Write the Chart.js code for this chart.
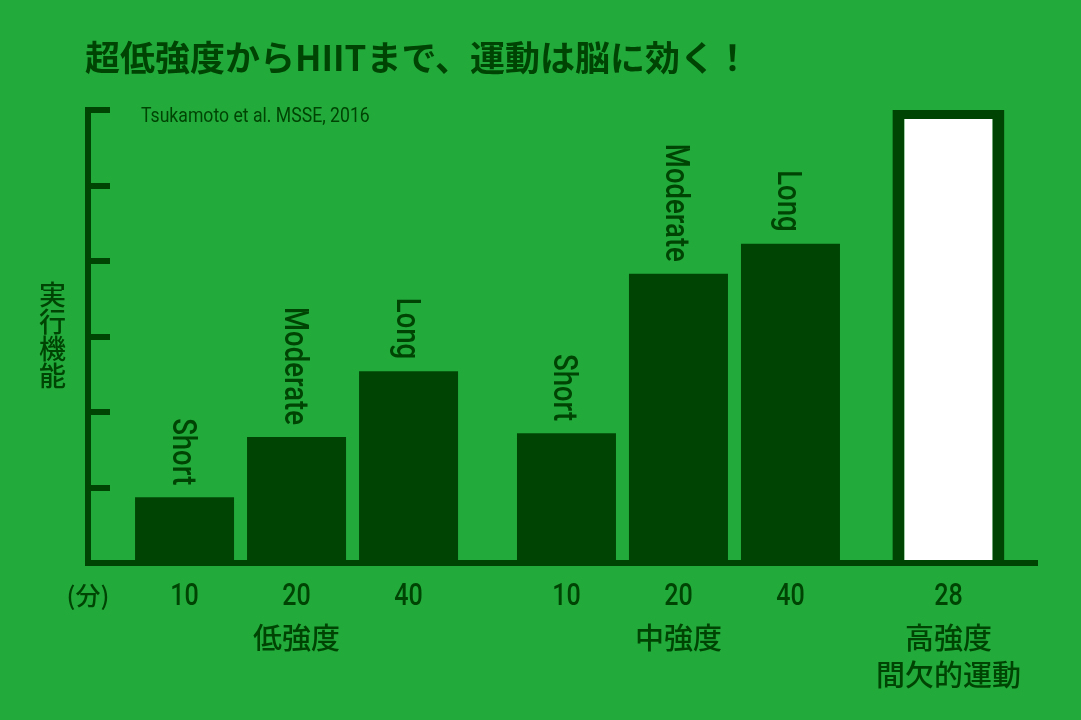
<!DOCTYPE html>
<html lang="ja">
<head>
<meta charset="utf-8">
<title>超低強度からHIITまで、運動は脳に効く！</title>
<script src="https://cdn.jsdelivr.net/npm/chart.js@4.4.1/dist/chart.umd.min.js"></script>
<style>
  html, body { margin: 0; padding: 0; background: #22ab3b; }
  #wrap { position: relative; width: 1081px; height: 720px; overflow: hidden; background: #22ab3b; }
  #chartBox { position: absolute; left: 0; top: 0; width: 1081px; height: 720px; }
  .title {
    position: absolute; left: 85px; top: 38px;
    font: bold 35px/35px "Noto Sans CJK JP", sans-serif;
    color: #004404; white-space: nowrap;
  }
  .source {
    position: absolute; left: 141px; top: 105px;
    font: 21px/21px Roboto, "Liberation Sans", sans-serif;
    color: #004404; white-space: nowrap;
    transform: scaleX(0.84); transform-origin: 0 0;
  }
  .ylabel {
    position: absolute; left: 39px; top: 281px;
    font: 500 27px/27px "Noto Sans CJK JP", sans-serif;
    writing-mode: vertical-rl; text-orientation: upright;
    color: #004404;
  }
</style>
</head>
<body>
<div id="wrap">
  <div id="chartBox"><canvas id="myChart"></canvas></div>
  <div class="title">超低強度からHIITまで、運動は脳に効く！</div>
  <div class="source">Tsukamoto et al. MSSE, 2016</div>
  <div class="ylabel">実行機能</div>
</div>
<script>
var DARK = '#004404';
var SANS = 'Roboto, "Liberation Sans", sans-serif';
var CJK = '"Noto Sans CJK JP", sans-serif';
var NARROW = 0.81; // 欧文は横を詰めてコンデンス書体風に

// 運動強度グループ（最後は高強度間欠的運動）
var groupNames = [['低強度'], ['中強度'], ['高強度', '間欠的運動']];
var HIIT_GROUP = 2;

// 各バー：所属グループ、運動時間（分）、時間の呼び名、実行機能（目盛なしの相対値）
var barGroups = [0, 0, 0, 1, 1, 1, 2];
var minuteLabels = ['10', '20', '40', '10', '20', '40', '28'];
var durationNames = ['Short', 'Moderate', 'Long', 'Short', 'Moderate', 'Long', ''];
var scores = [8.7, 16.7, 25.4, 17.2, 38.3, 42.3, 60.4];
var unitLabel = '(分)';

// レイアウト用（グループ間のすき間と横軸の範囲）
var GROUP_GAP = 0.41;
var X_MIN = -0.862;
var X_MAX = 7.611;

var slots = barGroups.map(function (g, i) { return i + g * GROUP_GAP; });

var plainBars = [], plainNames = [], hiitBars = [];
for (var i = 0; i < scores.length; i++) {
    var point = { x: slots[i], y: scores[i] };
    if (barGroups[i] === HIIT_GROUP) {
        hiitBars.push(point);
    } else {
        plainBars.push(point);
        plainNames.push(durationNames[i]);
    }
}

var groupCenters = groupNames.map(function (name, g) {
    var xs = slots.filter(function (s, i) { return barGroups[i] === g; });
    return xs.reduce(function (a, b) { return a + b; }, 0) / xs.length;
});

// バーの上に縦書きで Short / Moderate / Long、横軸の分数
var narrowText = {
    id: 'narrowText',
    afterDraw: function (chart) {
        var ctx = chart.ctx;
        ctx.save();
        ctx.fillStyle = DARK;

        ctx.font = '500 34px ' + SANS;
        ctx.textAlign = 'right';
        ctx.textBaseline = 'alphabetic';
        chart.getDatasetMeta(0).data.forEach(function (bar, i) {
            ctx.save();
            ctx.translate(bar.x, bar.y - 12);
            ctx.rotate(Math.PI / 2);
            ctx.scale(NARROW, 1);
            ctx.fillText(plainNames[i], 0, 12);
            ctx.restore();
        });

        var xs = chart.scales.x;
        ctx.textAlign = 'center';
        xs.ticks.forEach(function (tick, i) {
            var px = xs.getPixelForTick(i);
            ctx.save();
            if (i === 0) {
                ctx.font = '500 25px ' + CJK;
                ctx.textBaseline = 'middle';
                ctx.fillText(tick.label, px, xs.top + 32);
            } else {
                ctx.font = '500 31px ' + SANS;
                ctx.textBaseline = 'alphabetic';
                ctx.translate(px, xs.top + 42);
                ctx.scale(NARROW, 1);
                ctx.fillText(tick.label, 0, 0);
            }
            ctx.restore();
        });
        ctx.restore();
    }
};

var ctx = document.getElementById('myChart').getContext('2d');
var chart = new Chart(ctx, {
    type: 'bar',
    data: {
        datasets: [{
            label: '実行機能',
            data: plainBars,
            backgroundColor: DARK,
            borderWidth: 0,
            maxBarThickness: 99,
            barPercentage: 1.3,
            categoryPercentage: 1
        }, {
            label: '高強度間欠的運動',
            data: hiitBars,
            backgroundColor: '#ffffff',
            borderColor: DARK,
            borderWidth: 12,
            borderSkipped: 'start',
            maxBarThickness: 112,
            barPercentage: 1.3,
            categoryPercentage: 1
        }]
    },
    options: {
        responsive: true,
        maintainAspectRatio: false,
        animation: false,
        layout: { padding: { left: 0, right: 44, top: 110, bottom: 0 } },
        datasets: { bar: { grouped: false } },
        plugins: {
            legend: { display: false },
            tooltip: { enabled: false }
        },
        scales: {
            x: {
                type: 'linear',
                position: 'bottom',
                offset: false,
                weight: 0,
                min: X_MIN,
                max: X_MAX,
                grid: { display: false, drawTicks: false },
                border: { display: true, color: DARK, width: 6, z: 1 },
                afterBuildTicks: function (scale) {
                    scale.ticks = [{ value: X_MIN }].concat(slots.map(function (s) { return { value: s }; }));
                },
                afterFit: function (scale) { scale.height = 50; },
                ticks: {
                    display: false,
                    autoSkip: false,
                    callback: function (value, index) {
                        return index === 0 ? unitLabel : minuteLabels[index - 1];
                    }
                }
            },
            xg: {
                type: 'linear',
                position: 'bottom',
                axis: 'x',
                offset: false,
                weight: 1,
                min: X_MIN,
                max: X_MAX,
                grid: { display: false, drawTicks: false },
                border: { display: false },
                afterBuildTicks: function (scale) {
                    scale.ticks = groupCenters.map(function (c) { return { value: c }; });
                },
                afterFit: function (scale) { scale.height = 107; },
                ticks: {
                    autoSkip: false,
                    maxRotation: 0,
                    padding: 6,
                    color: DARK,
                    font: { family: CJK, size: 29, weight: '500', lineHeight: '37px' },
                    callback: function (value, index) { return groupNames[index]; }
                }
            },
            y: {
                type: 'linear',
                position: 'left',
                min: 0,
                max: 60,
                ticks: { display: false, stepSize: 10 },
                grid: {
                    drawOnChartArea: false,
                    color: DARK,
                    lineWidth: 6,
                    tickWidth: 6,
                    tickLength: -22
                },
                border: { color: DARK, width: 6 },
                afterFit: function (scale) { scale.width = 88; }
            }
        }
    },
    plugins: [narrowText]
});
</script>
</body>
</html>
